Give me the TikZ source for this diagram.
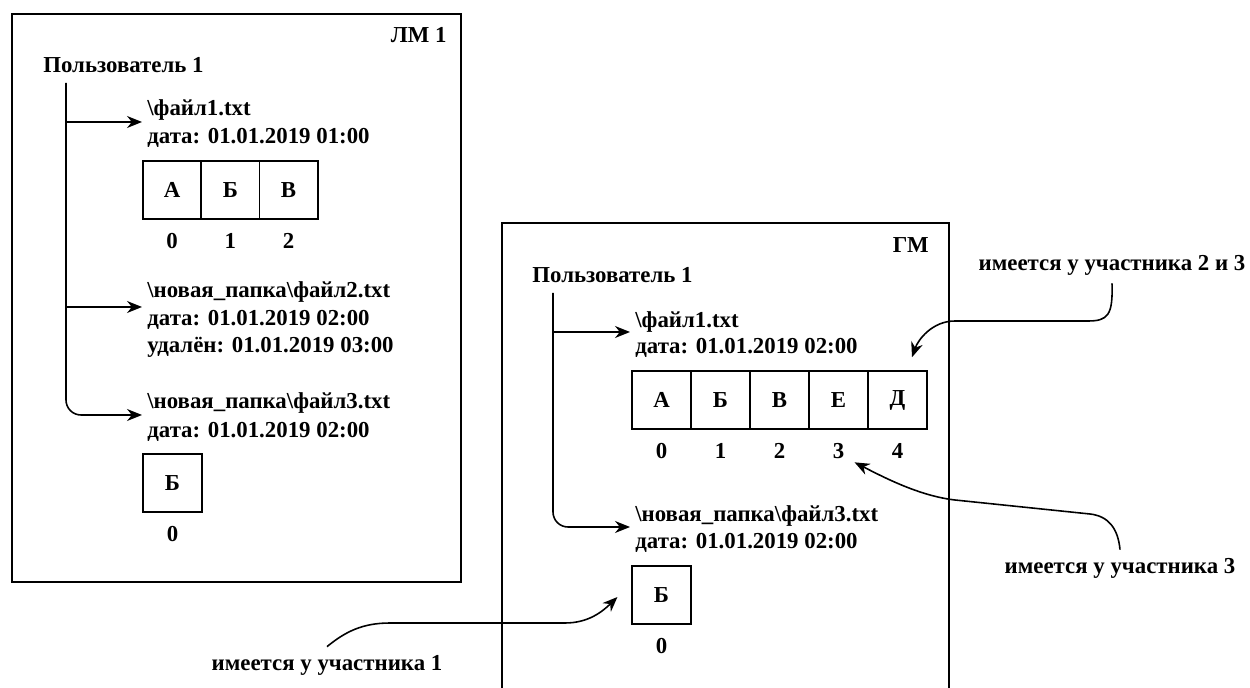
\documentclass[tikz,border=0pt]{standalone}
\usepackage{fontspec}
\setmainfont{Liberation Serif}
\usetikzlibrary{positioning,arrows.meta,calc}

\tikzset{
	lbl/.style={inner sep=0pt, font=\bfseries\fontsize{13}{15.5}\selectfont},
	txt/.style={lbl, anchor=base west},
	note/.style={lbl, inner sep=0.16cm},
	cell/.style={draw, line width=0.9pt, minimum width=1.17cm, minimum height=1.16cm, inner sep=0pt, font=\bfseries\fontsize{13}{15.5}\selectfont},
	arr/.style={-{Stealth[length=0.3cm,width=0.24cm]}, line width=0.9pt},
	frame/.style={line width=1.1pt},
}

\begin{document}
\begin{tikzpicture}[x=0.02cm, y=-0.02cm]
	\useasboundingbox (0,0) rectangle (1250,688);
	
	% Frames
	\draw[frame] (12,14) rectangle (461,582);
	\draw[frame] (502,688) -- (502,223) -- (949,223) -- (949,688);
	\node[lbl, anchor=east] (lm) at (447,35) {ЛМ 1};
	\node[lbl, anchor=east] (gm) at (929,245) {ГМ};
	
	% Local model
	\node[lbl, anchor=west] (userL) at (43,65) {Пользователь 1};
	\coordinate (trunkL) at (66,83);
	
	\node[txt] (lf1) at (147,116) {\textbackslash файл1.txt};
	\node[txt, below=0.56cm of lf1.base west, anchor=base west] (lf1d) {дата: 01.01.2019 01:00};
	\foreach \ch [count=\i from 0] in {А,Б,В} {
		\node[cell] (lc\i) at (172+58.3*\i,190) {\ch};
		\node[lbl, below=0.27cm of lc\i] (lci\i) {\i};
	}
	
	\node[txt] (lf2) at (147,298) {\textbackslash новая\_папка\textbackslash файл2.txt};
	\node[txt, below=0.56cm of lf2.base west, anchor=base west] (lf2d) {дата: 01.01.2019 02:00};
	\node[txt, below=0.54cm of lf2d.base west, anchor=base west] (lf2r) {удалён: 01.01.2019 03:00};
	
	\node[txt] (lf3) at (147,409) {\textbackslash новая\_папка\textbackslash файл3.txt};
	\node[txt, below=0.58cm of lf3.base west, anchor=base west] (lf3d) {дата: 01.01.2019 02:00};
	\node[cell] (lb) at (172.5,483) {Б};
	\node[lbl, below=0.27cm of lb] (lbi) {0};
	
	\coordinate (a1) at ([shift={(-5,6)}]lf1.base west);
	\coordinate (a2) at ([shift={(-5,9)}]lf2.base west);
	\coordinate (a3) at ([shift={(-5,6)}]lf3.base west);
	\draw[arr] (trunkL |- a1) -- (a1);
	\draw[arr] (trunkL |- a2) -- (a2);
	\draw[arr, rounded corners=0.3cm] (trunkL) |- (a3);
	
	% Global model
	\node[lbl, anchor=west] (userG) at (532,275) {Пользователь 1};
	\coordinate (trunkG) at (553,293);
	
	\node[txt] (rf1) at (635,328) {\textbackslash файл1.txt};
	\node[txt, below=0.52cm of rf1.base west, anchor=base west] (rf1d) {дата: 01.01.2019 02:00};
	\foreach \ch [count=\i from 0] in {А,Б,В,Е,Д} {
		\node[cell] (gc\i) at (661.5+59*\i,400) {\ch};
		\node[lbl, below=0.27cm of gc\i] (gci\i) {\i};
	}
	
	\node[txt] (rf3) at (635,521) {\textbackslash новая\_папка\textbackslash файл3.txt};
	\node[txt, below=0.56cm of rf3.base west, anchor=base west] (rf3d) {дата: 01.01.2019 02:00};
	\node[cell] (gb) at (661.5,595) {Б};
	\node[lbl, below=0.27cm of gb] (gbi) {0};
	
	\coordinate (b1) at ([shift={(-5,4)}]rf1.base west);
	\coordinate (b3) at ([shift={(-5,6)}]rf3.base west);
	\draw[arr] (trunkG |- b1) -- (b1);
	\draw[arr, rounded corners=0.3cm] (trunkG) |- (b3);
	
	% Notes
	\node[note] (n23) at (1112,265) {имеется у участника 2 и 3};
	\node[note] (n3) at (1120,568) {имеется у участника 3};
	\node[note] (n1) at (327,665) {имеется у участника 1};
	
	\coordinate (t23) at ($(gc4.north)+(14.5,-13)$);
	\coordinate (t3) at ($(gci3.south east)+(10,3)$);
	\coordinate (t1) at ($(gb.west)+(-14,2)$);
	
	\draw[arr] (n23.south) .. controls (1113,315) and (1108,321) .. (1088,321)
		-- (955,321) .. controls (932,321) and (918,340) .. (t23);
	\draw[arr] (n3.north) .. controls (1118,528) and (1108,516) .. (1090,514)
		-- (955,500) .. controls (920,496) and (885,478) .. (t3);
	\draw[arr] (n1.north) .. controls (345,632) and (362,623) .. (390,623)
		-- (565,623) .. controls (588,623) and (602,612) .. (t1);
	
\end{tikzpicture}
\end{document}
